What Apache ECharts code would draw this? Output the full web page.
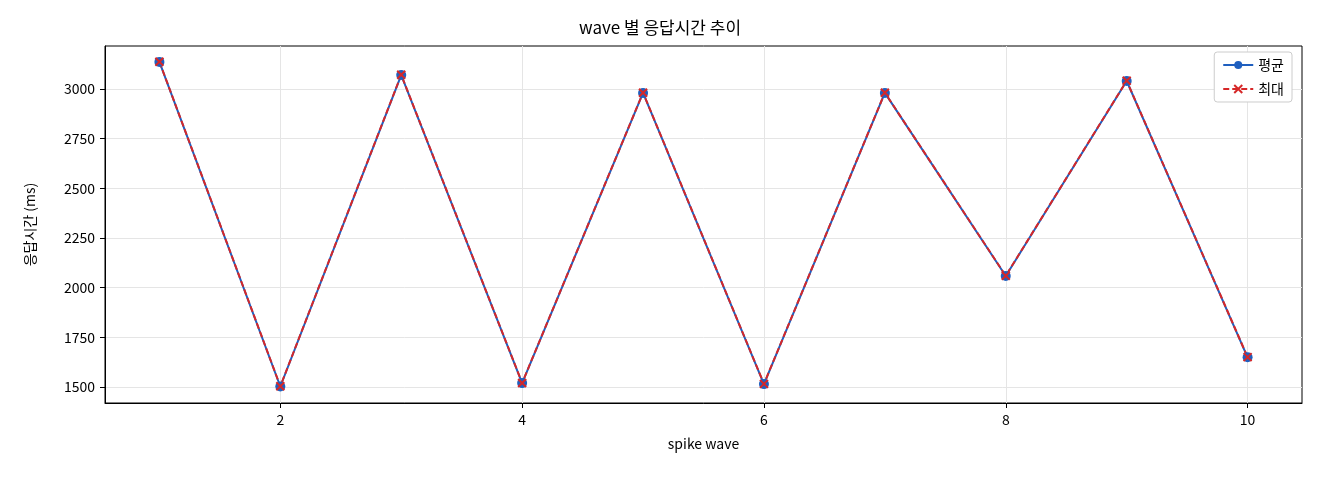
<!DOCTYPE html>
<html><head><meta charset="utf-8">
<script src="https://cdn.jsdelivr.net/npm/echarts@6/dist/echarts.min.js"></script>
<style>body{margin:0}#c{width:1320px;height:480px}</style></head>
<body><div id="c"></div>
<script>
const waves = [1,2,3,4,5,6,7,8,9,10];
const avgVals = [3136,1503,3070,1520,2980,1515,2980,2059,3040,1650];
const maxVals = [3137,1504,3071,1521,2981,1516,2981,2060,3041,1651];
const xTicks = [2,4,6,8,10];
const yTicks = [1500,1750,2000,2250,2500,2750,3000];
const F = "'Noto Sans CJK KR', 'DejaVu Sans', sans-serif";
const xPath = 'path://M0,0L10,10M10,0L0,10';
const chart = echarts.init(document.getElementById('c'));
chart.setOption({
  animation:false,
  textStyle:{fontFamily:F},
  title:{text:'wave 별 응답시간 추이',left:'center',top:14,textStyle:{fontSize:17,fontWeight:'normal',color:'#000',fontFamily:F}},
  grid:{left:105,right:18,top:46,bottom:77,show:true,borderColor:'#000',borderWidth:1},
  legend:{right:28,top:52,orient:'vertical',backgroundColor:'#fff',borderColor:'#ccc',borderWidth:1,borderRadius:3,padding:[6,8],itemWidth:30,itemHeight:10,itemGap:10,
    textStyle:{fontSize:14,color:'#000',fontFamily:F},
    data:[{name:'평균'},{name:'최대'}]},
  xAxis:{type:'value',min:0.55,max:10.45,name:'spike wave',nameLocation:'middle',nameGap:34,nameTextStyle:{fontSize:14,color:'#000'},
    axisLine:{show:true,lineStyle:{color:'#000'}},
    axisTick:{show:true,customValues:xTicks,length:5,lineStyle:{color:'#000'}},
    axisLabel:{customValues:xTicks,fontSize:14,color:'#000',margin:10,formatter:v=>String(v)},
    splitLine:{show:true,lineStyle:{color:'#e5e5e5'}}},
  yAxis:{type:'value',min:1420,max:3216,name:'응답시간 (ms)',nameLocation:'middle',nameGap:68,nameTextStyle:{fontSize:14,color:'#000'},
    axisLine:{show:true,lineStyle:{color:'#000'}},
    axisTick:{show:true,customValues:yTicks,length:5,lineStyle:{color:'#000'}},
    axisLabel:{customValues:yTicks,fontSize:14,color:'#000',margin:10,formatter:v=>String(v)},
    splitLine:{show:true,lineStyle:{color:'#e5e5e5'}}},
  series:[
    {name:'평균',type:'line',data:waves.map((w,i)=>[w,avgVals[i]]),symbol:'circle',symbolSize:10,
      lineStyle:{color:'#1f5fbf',width:2},itemStyle:{color:'#1f5fbf'}},
    {name:'최대',type:'line',data:waves.map((w,i)=>[w,maxVals[i]]),symbol:xPath,symbolSize:8,
      lineStyle:{color:'#d62728',width:2,type:[6,3]},itemStyle:{color:'#d62728',borderColor:'#d62728',borderWidth:2}}
  ]
});
</script></body></html>
